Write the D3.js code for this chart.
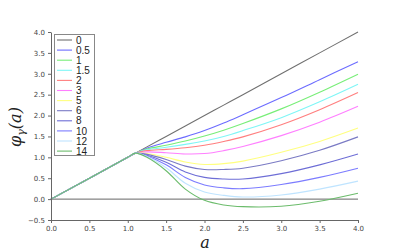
<!DOCTYPE html>
<html><head><meta charset="utf-8">
<script src="https://cdn.jsdelivr.net/npm/d3@7"></script>
<style>body{margin:0;background:#fff}svg{display:block}</style>
</head><body>
<svg id="c" width="409" height="251"></svg>
<script>
const gammas = ["0","0.5","1","1.5","2","3","5","6","8","10","12","14"];
const colors = ["#707070","#6c6cff","#78ee78","#7ff6f6","#ff7f7f","#ff7fff","#ffff80","#7a7ac4","#6e6ed6","#7c7cff","#bfe4ff","#6cbc6c"];
const aValues = [0, 1.0, 1.1, 1.25, 1.5, 1.75, 2.0, 2.25, 2.5, 3.0, 3.5, 4.0];
const s0   = [0, 1.0, 1.1, 1.25, 1.5, 1.75, 2.0, 2.25, 2.5, 3.0, 3.5, 4.0];
const s05  = [0, 1.0, 1.1, 1.22, 1.36, 1.49, 1.64, 1.82, 2.02, 2.43, 2.86, 3.29];
const s1   = [0, 1.0, 1.1, 1.20, 1.29, 1.39, 1.51, 1.65, 1.81, 2.16, 2.56, 2.99];
const s15  = [0, 1.0, 1.1, 1.18, 1.24, 1.31, 1.39, 1.50, 1.64, 1.95, 2.33, 2.75];
const s2   = [0, 1.0, 1.1, 1.16, 1.19, 1.23, 1.29, 1.38, 1.49, 1.78, 2.14, 2.55];
const s3   = [0, 1.0, 1.1, 1.13, 1.11, 1.08, 1.09, 1.16, 1.26, 1.52, 1.84, 2.22];
const s5   = [0, 1.0, 1.1, 1.09, 1.00, 0.89, 0.83, 0.85, 0.91, 1.12, 1.38, 1.70];
const s6   = [0, 1.0, 1.1, 1.07, 0.95, 0.79, 0.71, 0.71, 0.74, 0.92, 1.17, 1.49];
const s8   = [0, 1.0, 1.1, 1.05, 0.88, 0.65, 0.52, 0.48, 0.48, 0.61, 0.82, 1.08];
const s10  = [0, 1.0, 1.1, 1.03, 0.82, 0.52, 0.34, 0.27, 0.25, 0.35, 0.52, 0.74];
const s12  = [0, 1.0, 1.1, 1.02, 0.75, 0.38, 0.17, 0.09, 0.05, 0.10, 0.24, 0.43];
const s14  = [0, 1.0, 1.1, 1.00, 0.68, 0.24, -0.03, -0.14, -0.18, -0.17, -0.05, 0.14];
const series = [s0, s05, s1, s15, s2, s3, s5, s6, s8, s10, s12, s14];
const xTicks = [0, 0.5, 1, 1.5, 2, 2.5, 3, 3.5, 4];
const yTicks = [-0.5, 0, 0.5, 1, 1.5, 2, 2.5, 3, 3.5, 4];

const svg = d3.select("#c");
const L = 51, R = 358, T = 32, B = 220;
const x = d3.scaleLinear().domain([0, 4]).range([L, R]);
const y = d3.scaleLinear().domain([-0.5, 4]).range([B, T]);

svg.append("line").attr("x1", x(0)).attr("x2", x(4)).attr("y1", y(0)).attr("y2", y(0))
  .attr("stroke", "#666").attr("stroke-width", 1);

const line = d3.line().x((d, i) => x(aValues[i])).y(d => y(d)).curve(d3.curveCatmullRom.alpha(0.5));
series.forEach((s, k) => {
  svg.append("path").attr("d", line(s)).attr("fill", "none")
    .attr("stroke", colors[k]).attr("stroke-width", 1.1);
});

const xAxis = svg.append("g").attr("transform", `translate(0,${B})`)
  .call(d3.axisBottom(x).tickValues(xTicks).tickFormat(d3.format(".1f")).tickSize(3).tickSizeOuter(0));
const yAxis = svg.append("g").attr("transform", `translate(${L},0)`)
  .call(d3.axisLeft(y).tickValues(yTicks).tickFormat(d3.format(".1f")).tickSize(3).tickSizeOuter(0));
[xAxis, yAxis].forEach(g => {
  g.select(".domain").attr("stroke", "#666");
  g.selectAll(".tick line").attr("stroke", "#666");
  g.selectAll("text").attr("fill", "#444").attr("font-size", 7).attr("font-family", "DejaVu Sans");
});
xAxis.selectAll("text").attr("dy", "0.7em");

svg.append("text").attr("x", 205).attr("y", 248).attr("text-anchor", "middle")
  .attr("font-family", "DejaVu Serif").attr("font-style", "italic").attr("font-size", 16).attr("fill", "#222").text("a");
svg.append("text").attr("transform", "translate(21,127) rotate(-90)").attr("text-anchor", "middle")
  .attr("font-family", "DejaVu Serif").attr("font-style", "italic").attr("font-size", 16).attr("fill", "#222")
  .html('φ<tspan font-size="11" dy="4">γ</tspan><tspan dy="-4">(a)</tspan>');

const lg = svg.append("g");
lg.append("rect").attr("x", 54.5).attr("y", 34.5).attr("width", 40).attr("height", 121)
  .attr("fill", "#fff").attr("stroke", "#888").attr("stroke-width", 1);
gammas.forEach((g, k) => {
  const yy = 40 + k * 10.1;
  lg.append("line").attr("x1", 57).attr("x2", 72).attr("y1", yy).attr("y2", yy)
    .attr("stroke", colors[k]).attr("stroke-width", 1.1);
  lg.append("text").attr("x", 76).attr("y", yy + 3.6).attr("font-family", "Liberation Sans")
    .attr("font-size", 10).attr("fill", "#222").text(g);
});
</script>
</body></html>
